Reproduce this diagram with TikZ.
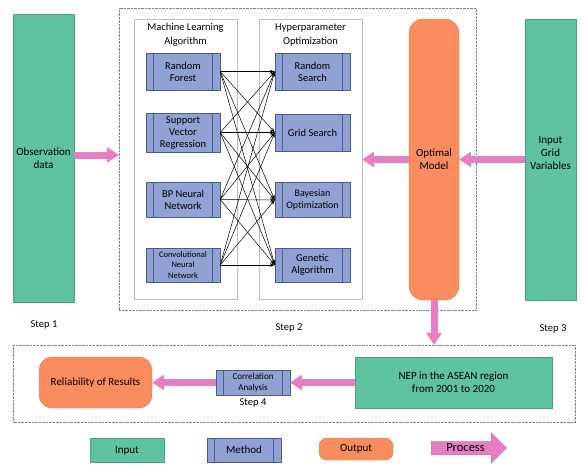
\documentclass[tikz,border=0pt]{standalone}
\usepackage{fontspec}
\setmainfont{Carlito}
\usepackage{tikz}
\usetikzlibrary{shapes.geometric, shapes.arrows, arrows, positioning, calc, arrows.meta}
\definecolor{inputfill}{HTML}{5FC2A0}
\definecolor{inputline}{HTML}{4E9E84}
\definecolor{methodfill}{HTML}{8FA2D3}
\definecolor{methodline}{HTML}{4D5B8E}
\definecolor{outputfill}{HTML}{F98D5F}
\definecolor{outputline}{HTML}{D9794F}
\definecolor{processfill}{HTML}{E57EC3}
\definecolor{processline}{HTML}{C2619F}
\definecolor{framegray}{HTML}{BDBDBD}

\begin{document}
\begin{tikzpicture}[x=1pt, y=-1pt, font=\fontsize{11}{13}\selectfont,
        inputbox/.style={rectangle, draw=inputline, fill=inputfill, align=center},
        outputbox/.style={rectangle, rounded corners=13pt, draw=outputline, fill=outputfill, align=center},
        methodbox/.style={rectangle, draw=methodline, fill=methodfill, minimum width=74pt, align=center,
            font=\fontsize{10.5}{12}\selectfont,
            path picture={\draw[methodline]
                ([xshift=7.5pt]path picture bounding box.north west) -- ([xshift=7.5pt]path picture bounding box.south west)
                ([xshift=-7.5pt]path picture bounding box.north east) -- ([xshift=-7.5pt]path picture bounding box.south east);}},
        groupbox/.style={rectangle, draw=framegray, minimum width=103pt, minimum height=280pt},
        stagebox/.style={rectangle, draw=gray, densely dotted},
        steplabel/.style={font=\fontsize{10.5}{12}\selectfont},
        link/.style={draw, -{Stealth[length=5pt,width=3.5pt]}, black, line width=0.5pt},
        fatarrow/.style={draw, processfill, line width=7pt, -{Triangle[length=12pt,width=16pt,line width=0pt]}}]

        \useasboundingbox (0,0) rectangle (584,472);

        % Frames
        \node [stagebox, minimum width=357pt, minimum height=302pt] (stage2) at (297.5,159) {};
        \node [stagebox, minimum width=562pt, minimum height=77pt] (stage4) at (294.5,383.5) {};
        \node [groupbox] (mlgroup) at (185.5,159) {};
        \node [groupbox] (hpgroup) at (310.5,159) {};
        \node [align=center, font=\fontsize{10.5}{14}\selectfont] (mltitle) at (185.5,35) {Machine Learning\\Algorithm};
        \node [align=center, font=\fontsize{10.5}{14}\selectfont] (hptitle) at (310.5,35) {Hyperparameter\\Optimization};

        % Nodes - inputs and outputs
        \node [inputbox, minimum width=61pt, minimum height=288pt] (obs) at (43.5,158) {Observation\\data};
        \node [inputbox, minimum width=51pt, minimum height=281pt] (grid) at (550.5,159.5) {Input\\Grid\\Variables\\[1pt]};
        \node [outputbox, rounded corners=14pt, minimum width=50pt, minimum height=281pt] (opt) at (434,159.5) {Optimal\\Model};
        \node [inputbox, minimum width=197pt, minimum height=51pt] (nep) at (453.5,382.5) {NEP in the ASEAN region\\from 2001 to 2020};
        \node [outputbox, minimum width=113pt, minimum height=51pt] (rel) at (95.5,382.5) {Reliability of Results};

        % Nodes - methods
        \node [methodbox, minimum height=37pt] (rf) at (183,71.5) {Random\\Forest};
        \node [methodbox, minimum height=37pt] (svr) at (183,132.5) {Support\\Vector\\Regression};
        \node [methodbox, minimum height=35pt] (bp) at (183,199.5) {BP Neural\\Network};
        \node [methodbox, minimum height=34pt, font=\fontsize{8.5}{10.5}\selectfont] (cnn) at (183,265) {Convolutional\\Neural\\Network};
        \node [methodbox, minimum width=75pt, minimum height=37pt] (rs) at (312.5,71.5) {Random\\Search};
        \node [methodbox, minimum width=75pt, minimum height=37pt] (gs) at (312.5,132.5) {Grid Search};
        \node [methodbox, minimum width=75pt, minimum height=35pt, font=\fontsize{10}{11.5}\selectfont] (bo) at (312.5,200) {Bayesian\\Optimization};
        \node [methodbox, minimum width=75pt, minimum height=34pt] (ga) at (312.5,265) {Genetic\\Algorithm};
        \node [methodbox, minimum height=25pt, font=\fontsize{9}{10.5}\selectfont] (corr) at (253,382.5) {Correlation\\Analysis};

        % Arrows - every algorithm to every optimizer
        \foreach \a in {rf,svr,bp,cnn}
            \foreach \b in {rs,gs,bo,ga}
                \path [link] (\a.east) -- (\b.west);

        % Arrows - process flow
        \path [fatarrow] ([yshift=3pt]obs.east) -- ([yshift=3pt]obs.east -| stage2.west);
        \path [fatarrow] (grid.west) -- (opt.east);
        \path [fatarrow] (opt.west) -- (opt.west -| hpgroup.east);
        \path [fatarrow] (opt.south) -- (opt.south |- stage4.north);
        \path [fatarrow] (nep.west) -- (corr.east);
        \path [fatarrow] (corr.west) -- (rel.east);

        % Labels
        \node [steplabel] (step1) at (44,325) {Step 1};
        \node [steplabel] (step2) at (289,328) {Step 2};
        \node [steplabel] (step3) at (553,329) {Step 3};
        \node [steplabel, below=0pt of corr] (step4) {Step 4};

        % Legend
        \node [inputbox, minimum width=74pt, minimum height=24pt] (leginput) at (127,450.5) {Input};
        \node [methodbox, minimum height=24pt, font=\fontsize{11}{13}\selectfont] (legmethod) at (244,450) {Method};
        \node [outputbox, rounded corners=8pt, minimum width=74pt, minimum height=22pt] (legoutput) at (356,449) {Output};
        \node [single arrow, draw=processline, fill=processfill, minimum height=75pt, inner xsep=2pt, inner ysep=2.5pt,
            single arrow head extend=8.5pt, font=\fontsize{12.5}{14}\selectfont] (legprocess) at (465.5,448) {Process};
    \end{tikzpicture}
\end{document}
